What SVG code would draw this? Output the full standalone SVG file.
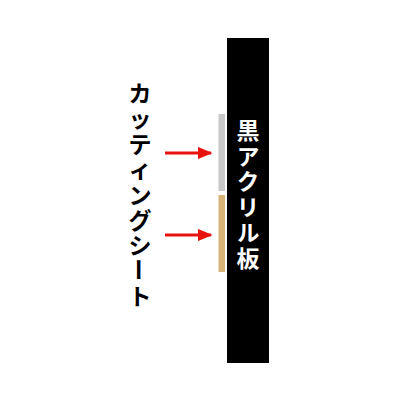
<svg xmlns="http://www.w3.org/2000/svg" width="400" height="400" viewBox="0 0 400 400">
<style>
.lbl{font-family:"Noto Sans CJK JP","Noto Sans CJK SC",sans-serif;font-weight:bold;font-size:23px;writing-mode:vertical-rl;}
.ch{font-family:"Noto Sans CJK JP","Noto Sans CJK SC",sans-serif;font-weight:bold;font-size:23px;text-anchor:middle;dominant-baseline:central;fill:#000;}
.arr{stroke:#e8130f;stroke-width:3;fill:none;}
</style>
<defs>
<marker id="ah" markerWidth="5" markerHeight="4.2" refX="4.5" refY="2.1" orient="auto" markerUnits="strokeWidth">
<path d="M0,0 L5,2.1 L0,4.2 Z" fill="#e8130f"/>
</marker>
</defs>
<rect width="400" height="400" fill="#fff"/>
<g id="board">
<rect x="227" y="38" width="42" height="325" fill="#000"/>
<text class="lbl" x="248" y="119" fill="#fff" letter-spacing="2.5">黒アクリル板</text>
</g>
<g id="sheet-gray"><rect x="218.5" y="114" width="6.5" height="77" fill="#c8c8c8"/></g>
<g id="sheet-tan"><rect x="218.5" y="195" width="6.5" height="77" fill="#d9b47a"/></g>
<g id="label">
<text class="ch" x="140" y="92">カ</text>
<text class="ch" x="140" y="117.4">ッ</text>
<text class="ch" x="140" y="142.8">テ</text>
<text class="ch" x="140" y="168.2">ィ</text>
<text class="ch" x="140" y="193.6">ン</text>
<text class="ch" x="140" y="219">グ</text>
<text class="ch" x="140" y="244.4">シ</text>
<text class="ch" x="140" y="269.8" transform="rotate(90 140 269.8)">ー</text>
<text class="ch" x="140" y="295.2">ト</text>
</g>
<g id="connectors">
<line class="arr" x1="165" y1="153" x2="211" y2="153" marker-end="url(#ah)"/>
<line class="arr" x1="165" y1="235" x2="211" y2="235" marker-end="url(#ah)"/>
</g>
</svg>
